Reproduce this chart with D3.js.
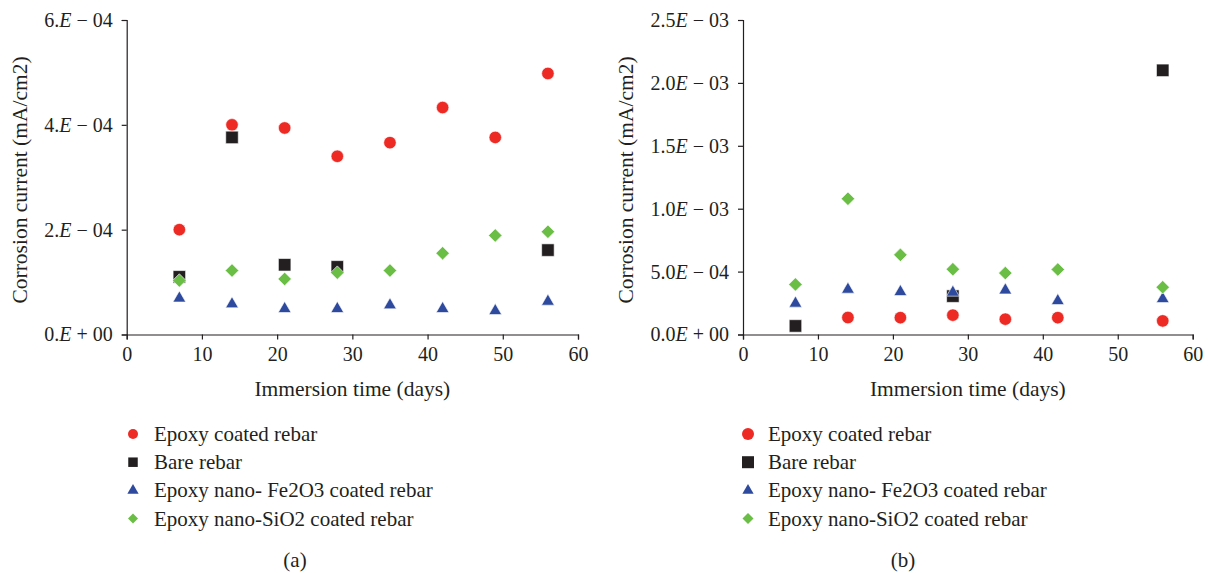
<!DOCTYPE html>
<html>
<head>
<meta charset="utf-8">
<script src="https://cdn.jsdelivr.net/npm/d3@7"></script>
<style>
  body { margin: 0; background: #fff; }
  svg text { font-family: "Liberation Serif", "DejaVu Serif", serif; fill: #231f20; }
</style>
</head>
<body>
<svg id="chart" width="1208" height="573"></svg>
<script>
// series names (legend order)
var seriesNames = ["Epoxy coated rebar", "Bare rebar", "Epoxy nano- Fe2O3 coated rebar", "Epoxy nano-SiO2 coated rebar"];

// panel (a)
var aDays = [7, 14, 21, 28, 35, 42, 49, 56];
var aEpoxy = [2.00e-4, 4.00e-4, 3.94e-4, 3.40e-4, 3.66e-4, 4.33e-4, 3.76e-4, 4.98e-4];
var aBare = [1.10e-4, 3.76e-4, 1.33e-4, 1.29e-4, null, null, null, 1.61e-4];
var aFe2O3 = [0.69e-4, 0.58e-4, 0.49e-4, 0.49e-4, 0.56e-4, 0.49e-4, 0.45e-4, 0.63e-4];
var aSiO2 = [1.03e-4, 1.22e-4, 1.06e-4, 1.18e-4, 1.22e-4, 1.55e-4, 1.89e-4, 1.96e-4];
var aYTicks = [0, 2e-4, 4e-4, 6e-4];
var aYLabels = ["0.E + 00", "2.E \u2212 04", "4.E \u2212 04", "6.E \u2212 04"];

// panel (b)
var bDays = [7, 14, 21, 28, 35, 42, 56];
var bEpoxy = [null, 1.35e-4, 1.34e-4, 1.54e-4, 1.22e-4, 1.34e-4, 1.08e-4];
var bBare = [0.68e-4, null, null, 3.05e-4, null, null, 2.10e-3];
var bFe2O3 = [2.47e-4, 3.58e-4, 3.39e-4, 3.34e-4, 3.52e-4, 2.67e-4, 2.83e-4];
var bSiO2 = [3.98e-4, 1.079e-3, 6.33e-4, 5.19e-4, 4.88e-4, 5.17e-4, 3.76e-4];
var bYTicks = [0, 5e-4, 1e-3, 1.5e-3, 2e-3, 2.5e-3];
var bYLabels = ["0.0E + 00", "5.0E \u2212 04", "1.0E \u2212 03", "1.5E \u2212 03", "2.0E \u2212 03", "2.5E \u2212 03"];

var xTicks = [0, 10, 20, 30, 40, 50, 60];

var colors = ["#ee2a24", "#231f20", "#2e4a9e", "#6bbe45"];
var shapes = ["circle", "square", "triangle", "diamond"];

var svg = d3.select("#chart");

function markerPath(shape, s) {
    // s = rough width in px
    if (shape == "circle") return d3.symbol(d3.symbolCircle, Math.PI * s * s / 4)();
    if (shape == "square") return d3.symbol(d3.symbolSquare, s * s)();
    if (shape == "triangle") return d3.symbol(d3.symbolTriangle, Math.sqrt(3) / 4 * s * s * 1.05)();
    // diamond: rotated square
    return d3.symbol(d3.symbolSquare, s * s / 2)();
}

function drawPanel(opt) {
    var g = svg.append("g");

    var x = d3.scaleLinear().domain([0, 60]).range([opt.left, opt.right]);
    var y = d3.scaleLinear().domain([0, opt.yMax]).range([334.5, 20]);

    // y axis
    var yAxis = g.append("g")
        .attr("transform", "translate(" + opt.left + ",0)")
        .call(d3.axisLeft(y).tickValues(opt.yTicks).tickSizeOuter(0).tickSize(5).tickPadding(9)
            .tickFormat(function(d, i) { return opt.yLabels[i]; }));
    yAxis.selectAll("text").each(function() {
        var t = d3.select(this);
        var parts = t.text().split("E");
        t.text(null);
        t.append("tspan").text(parts[0]);
        t.append("tspan").attr("font-style", "italic").text("E");
        t.append("tspan").text(parts[1]);
    });

    // x axis
    var xAxis = g.append("g")
        .attr("transform", "translate(0," + y(0) + ")")
        .call(d3.axisBottom(x).tickValues(xTicks).tickSizeOuter(0).tickSize(5).tickPadding(7));

    g.selectAll(".domain, .tick line").attr("stroke", "#231f20").attr("stroke-width", 1.2);
    g.selectAll(".tick text").attr("font-size", 20).attr("fill", "#231f20")
        .attr("font-family", "Liberation Serif");

    // axis titles
    g.append("text")
        .attr("x", (opt.left + opt.right) / 2)
        .attr("y", 396)
        .attr("text-anchor", "middle")
        .attr("font-size", 21.5)
        .text("Immersion time (days)");

    g.append("text")
        .attr("transform", "translate(" + opt.yTitleX + ",180) rotate(-90)")
        .attr("text-anchor", "middle")
        .attr("font-size", 21.5)
        .text("Corrosion current (mA/cm2)");

    // points
    opt.series.forEach(function(vals, si) {
        var pts = [];
        vals.forEach(function(v, i) { if (v != null) pts.push({ d: opt.days[i], v: v }); });
        g.append("g").selectAll("path")
            .data(pts)
            .enter()
            .append("path")
            .attr("d", markerPath(shapes[si], shapes[si] == "diamond" ? 13.5 : 12.5))
            .attr("transform", function(p) {
                var tr = "translate(" + x(p.d) + "," + y(p.v) + ")";
                if (shapes[si] == "diamond") tr += " rotate(45)";
                return tr;
            })
            .attr("fill", colors[si])
            .attr("stroke", "#fff")
            .attr("stroke-width", 0.6);
    });

    // legend
    var leg = g.append("g");
    seriesNames.forEach(function(name, i) {
        var ly = 434 + i * 28.2;
        leg.append("path")
            .attr("d", markerPath(shapes[i], opt.legSize[i]))
            .attr("transform", "translate(" + opt.legX + "," + ly + ")" + (shapes[i] == "diamond" ? " rotate(45)" : ""))
            .attr("fill", colors[i]);
        leg.append("text")
            .attr("x", opt.legX + opt.legGap)
            .attr("y", ly)
            .attr("dy", "0.33em")
            .attr("font-size", 21)
            .text(name);
    });

    g.append("text")
        .attr("x", opt.capX)
        .attr("y", 560)
        .attr("dy", "0.33em")
        .attr("text-anchor", "middle")
        .attr("font-size", 21)
        .text(opt.caption);
}

drawPanel({
    left: 126.7, right: 578, yMax: 6e-4,
    yTicks: aYTicks, yLabels: aYLabels,
    days: aDays, series: [aEpoxy, aBare, aFe2O3, aSiO2],
    yTitleX: 27, legX: 133, legGap: 21, legSize: [10, 9.5, 11, 10], capX: 295, caption: "(a)"
});

drawPanel({
    left: 743, right: 1192.7, yMax: 2.5e-3,
    yTicks: bYTicks, yLabels: bYLabels,
    days: bDays, series: [bEpoxy, bBare, bFe2O3, bSiO2],
    yTitleX: 633, legX: 748, legGap: 20, legSize: [12, 12, 11, 11], capX: 903, caption: "(b)"
});
</script>
</body>
</html>
